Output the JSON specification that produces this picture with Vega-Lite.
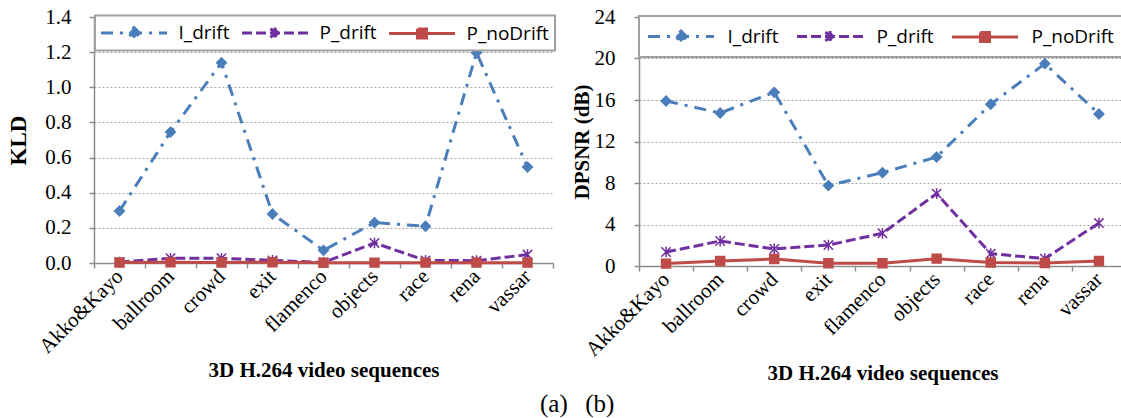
{
  "$schema": "https://vega.github.io/schema/vega-lite/v6.json",
  "background": "white",
  "padding": {"left": 7, "top": 6, "right": 1, "bottom": 2},
  "spacing": 15,
  "resolve": {
    "scale": {"color": "independent", "stroke": "independent", "shape": "independent", "size": "independent", "strokeDash": "independent"},
    "legend": {"color": "independent", "stroke": "independent", "shape": "independent", "size": "independent", "strokeDash": "independent"}
  },
  "title": {"text": "(a)\u2002\u2009(b)", "orient": "bottom", "anchor": "middle", "font": "Liberation Serif", "fontSize": 25, "fontWeight": "normal", "color": "black", "offset": 8, "dx": 10},
  "config": {
    "view": {"stroke": null},
    "axis": {
      "domainColor": "#8C8C8C", "domainWidth": 1.5, "tickColor": "#8C8C8C", "tickWidth": 1.5, "tickSize": 5,
      "gridColor": "#A6A6A6", "gridDash": [2, 2], "gridWidth": 1,
      "labelFont": "Liberation Serif", "labelColor": "black",
      "titleFont": "Liberation Serif", "titleFontWeight": "bold", "titleColor": "black"
    }
  },
  "datasets": {
    "kld": [
      {"seq": "Akko&Kayo", "series": "I_drift", "value": 0.296},
      {"seq": "ballroom", "series": "I_drift", "value": 0.745},
      {"seq": "crowd", "series": "I_drift", "value": 1.14},
      {"seq": "exit", "series": "I_drift", "value": 0.279},
      {"seq": "flamenco", "series": "I_drift", "value": 0.072},
      {"seq": "objects", "series": "I_drift", "value": 0.23},
      {"seq": "race", "series": "I_drift", "value": 0.209},
      {"seq": "rena", "series": "I_drift", "value": 1.197},
      {"seq": "vassar", "series": "I_drift", "value": 0.546},
      {"seq": "Akko&Kayo", "series": "P_drift", "value": 0.005},
      {"seq": "ballroom", "series": "P_drift", "value": 0.027},
      {"seq": "crowd", "series": "P_drift", "value": 0.027},
      {"seq": "exit", "series": "P_drift", "value": 0.015},
      {"seq": "flamenco", "series": "P_drift", "value": 0.003},
      {"seq": "objects", "series": "P_drift", "value": 0.114},
      {"seq": "race", "series": "P_drift", "value": 0.015},
      {"seq": "rena", "series": "P_drift", "value": 0.013},
      {"seq": "vassar", "series": "P_drift", "value": 0.048},
      {"seq": "Akko&Kayo", "series": "P_noDrift", "value": 0.003},
      {"seq": "ballroom", "series": "P_noDrift", "value": 0.004},
      {"seq": "crowd", "series": "P_noDrift", "value": 0.003},
      {"seq": "exit", "series": "P_noDrift", "value": 0.004},
      {"seq": "flamenco", "series": "P_noDrift", "value": 0.001},
      {"seq": "objects", "series": "P_noDrift", "value": 0.002},
      {"seq": "race", "series": "P_noDrift", "value": 0.002},
      {"seq": "rena", "series": "P_noDrift", "value": 0.002},
      {"seq": "vassar", "series": "P_noDrift", "value": 0.002}
    ],
    "dpsnr": [
      {"seq": "Akko&Kayo", "series": "I_drift", "value": 15.9},
      {"seq": "ballroom", "series": "I_drift", "value": 14.75},
      {"seq": "crowd", "series": "I_drift", "value": 16.74},
      {"seq": "exit", "series": "I_drift", "value": 7.75},
      {"seq": "flamenco", "series": "I_drift", "value": 9.0},
      {"seq": "objects", "series": "I_drift", "value": 10.5},
      {"seq": "race", "series": "I_drift", "value": 15.59},
      {"seq": "rena", "series": "I_drift", "value": 19.5},
      {"seq": "vassar", "series": "I_drift", "value": 14.65},
      {"seq": "Akko&Kayo", "series": "P_drift", "value": 1.35},
      {"seq": "ballroom", "series": "P_drift", "value": 2.41},
      {"seq": "crowd", "series": "P_drift", "value": 1.64},
      {"seq": "exit", "series": "P_drift", "value": 2.02},
      {"seq": "flamenco", "series": "P_drift", "value": 3.15},
      {"seq": "objects", "series": "P_drift", "value": 6.98},
      {"seq": "race", "series": "P_drift", "value": 1.19},
      {"seq": "rena", "series": "P_drift", "value": 0.71},
      {"seq": "vassar", "series": "P_drift", "value": 4.14},
      {"seq": "Akko&Kayo", "series": "P_noDrift", "value": 0.23},
      {"seq": "ballroom", "series": "P_noDrift", "value": 0.48},
      {"seq": "crowd", "series": "P_noDrift", "value": 0.67},
      {"seq": "exit", "series": "P_noDrift", "value": 0.26},
      {"seq": "flamenco", "series": "P_noDrift", "value": 0.26},
      {"seq": "objects", "series": "P_noDrift", "value": 0.71},
      {"seq": "race", "series": "P_noDrift", "value": 0.33},
      {"seq": "rena", "series": "P_noDrift", "value": 0.29},
      {"seq": "vassar", "series": "P_noDrift", "value": 0.48}
    ]
  },
  "hconcat": [
    {
      "width": 459, "height": 246,
      "data": {"name": "kld"},
      "encoding": {
        "x": {"field": "seq", "type": "nominal", "sort": null,
          "scale": {"paddingInner": 0, "paddingOuter": 0},
          "axis": {"title": "3D H.264 video sequences", "titleFontSize": 21, "titlePadding": 3,
            "labelAngle": -45, "labelAlign": "right", "labelBaseline": "middle", "labelFontSize": 21, "labelPadding": 5,
            "tickBand": "extent", "grid": false}},
        "y": {"field": "value", "type": "quantitative",
          "scale": {"domain": [0, 1.4], "nice": false},
          "axis": {"title": "KLD", "titleFontSize": 23, "titlePadding": 14, "values": [0, 0.2, 0.4, 0.6, 0.8, 1.0, 1.2, 1.4], "format": ".1f",
            "labelFontSize": 21, "labelPadding": 18, "grid": true}}
      },
      "layer": [
        {
          "mark": {"type": "line", "strokeWidth": 3},
          "encoding": {
            "color": {"field": "series", "type": "nominal",
              "scale": {"domain": ["I_drift", "P_drift", "P_noDrift"], "range": ["#4A7EBB", "#7030A0", "#BE4B48"]},
              "legend": {"title": null, "orient": "none", "legendX": 1, "legendY": -1.5, "direction": "horizontal",
                "fillColor": "white", "strokeColor": "#A0A0A0", "padding": 6, "columnPadding": 6,
                "symbolSize": 400, "symbolStrokeWidth": 3, "symbolOffset": 21.5, "labelOffset": 33,
                "labelFont": "Open Sans", "labelFontSize": 19, "labelColor": "black",
                "encode": {
                  "legend": {"update": {"stroke": {"value": "#A0A0A0"}, "strokeWidth": {"value": 2}, "fill": {"value": "white"}}},
                  "symbols": {"update": {
                  "shape": {"signal": "datum.value == 'I_drift' ? 'M-3.3,0H3.3M0,-0.55L0.55,0L0,0.55L-0.55,0Z' : datum.value == 'P_drift' ? 'M-3.3,0H3.3M-0.45,-0.45L0.45,0.45M-0.45,0.45L0.45,-0.45M0,-0.55V0.55' : 'M-3.3,0H3.3M-0.45,-0.45H0.45V0.45H-0.45Z'"},
                  "fill": {"signal": "datum.value == 'I_drift' ? '#4A7EBB' : datum.value == 'P_drift' ? 'transparent' : '#BE4B48'"},
                  "strokeDash": {"signal": "datum.value == 'I_drift' ? [12,7,3,7] : datum.value == 'P_drift' ? [10,4] : [100,0]"},
                  "strokeWidth": {"value": 3}
                }}}}},
            "strokeDash": {"field": "series", "type": "nominal",
              "scale": {"range": [[12, 7, 3, 7], [10, 4], [100, 0]]},
              "legend": null}
          }
        },
        {
          "mark": {"type": "point", "filled": true, "opacity": 1, "strokeWidth": 1.5},
          "encoding": {
            "color": {"field": "series", "type": "nominal", "legend": null},
            "stroke": {"field": "series", "type": "nominal",
              "scale": {"range": ["#4A7EBB", "#7030A0", "#BE4B48"]}, "legend": null},
            "shape": {"field": "series", "type": "nominal",
              "scale": {"range": ["diamond", "M-1,-1L1,1M-1,1L1,-1M0,-1.15V1.15", "square"]}, "legend": null},
            "size": {"field": "series", "type": "nominal",
              "scale": {"range": [95, 80, 70]}, "legend": null}
          }
        }
      ]
    },
    {
      "width": 487, "height": 249,
      "data": {"name": "dpsnr"},
      "encoding": {
        "x": {"field": "seq", "type": "nominal", "sort": null,
          "scale": {"paddingInner": 0, "paddingOuter": 0},
          "axis": {"title": "3D H.264 video sequences", "titleFontSize": 21, "titlePadding": 3,
            "labelAngle": -45, "labelAlign": "right", "labelBaseline": "middle", "labelFontSize": 21, "labelPadding": 5,
            "tickBand": "extent", "grid": false}},
        "y": {"field": "value", "type": "quantitative",
          "scale": {"domain": [0, 24], "nice": false},
          "axis": {"title": "DPSNR (dB)", "titleFontSize": 21, "titlePadding": 2, "values": [0, 4, 8, 12, 16, 20, 24],
            "labelFontSize": 21, "labelPadding": 19, "grid": true}}
      },
      "layer": [
        {
          "mark": {"type": "line", "strokeWidth": 3},
          "encoding": {
            "color": {"field": "series", "type": "nominal",
              "scale": {"domain": ["I_drift", "P_drift", "P_noDrift"], "range": ["#4A7EBB", "#7030A0", "#BE4B48"]},
              "legend": {"title": null, "orient": "none", "legendX": 0, "legendY": -1, "direction": "horizontal",
                "fillColor": "white", "strokeColor": "#A0A0A0", "padding": 9, "columnPadding": 12,
                "symbolSize": 400, "symbolStrokeWidth": 3, "symbolOffset": 21.5, "labelOffset": 35,
                "labelFont": "Open Sans", "labelFontSize": 19, "labelColor": "black",
                "encode": {
                  "legend": {"update": {"stroke": {"value": "#A0A0A0"}, "strokeWidth": {"value": 2}, "fill": {"value": "white"}}},
                  "symbols": {"update": {
                  "shape": {"signal": "datum.value == 'I_drift' ? 'M-3.3,0H3.3M0,-0.55L0.55,0L0,0.55L-0.55,0Z' : datum.value == 'P_drift' ? 'M-3.3,0H3.3M-0.45,-0.45L0.45,0.45M-0.45,0.45L0.45,-0.45M0,-0.55V0.55' : 'M-3.3,0H3.3M-0.45,-0.45H0.45V0.45H-0.45Z'"},
                  "fill": {"signal": "datum.value == 'I_drift' ? '#4A7EBB' : datum.value == 'P_drift' ? 'transparent' : '#BE4B48'"},
                  "strokeDash": {"signal": "datum.value == 'I_drift' ? [12,7,3,7] : datum.value == 'P_drift' ? [10,4] : [100,0]"},
                  "strokeWidth": {"value": 3}
                }}}}},
            "strokeDash": {"field": "series", "type": "nominal",
              "scale": {"range": [[12, 7, 3, 7], [10, 4], [100, 0]]},
              "legend": null}
          }
        },
        {
          "mark": {"type": "point", "filled": true, "opacity": 1, "strokeWidth": 1.5},
          "encoding": {
            "color": {"field": "series", "type": "nominal", "legend": null},
            "stroke": {"field": "series", "type": "nominal",
              "scale": {"range": ["#4A7EBB", "#7030A0", "#BE4B48"]}, "legend": null},
            "shape": {"field": "series", "type": "nominal",
              "scale": {"range": ["diamond", "M-1,-1L1,1M-1,1L1,-1M0,-1.15V1.15", "square"]}, "legend": null},
            "size": {"field": "series", "type": "nominal",
              "scale": {"range": [95, 80, 70]}, "legend": null}
          }
        }
      ]
    }
  ]
}
